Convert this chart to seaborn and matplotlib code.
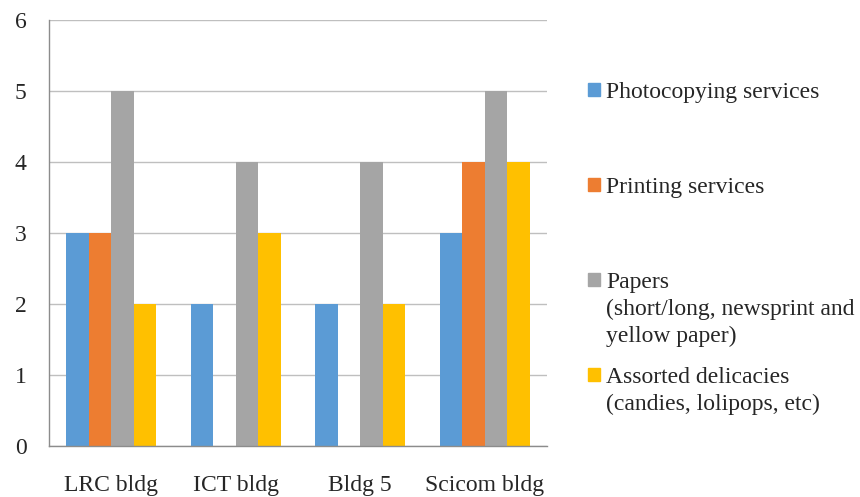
import matplotlib
matplotlib.use("Agg")

import matplotlib.pyplot as plt
import pandas as pd
import seaborn as sns

# chart data
buildings = ["LRC bldg", "ICT bldg", "Bldg 5", "Scicom bldg"]
series_names = [
    "Photocopying services",
    "Printing services",
    "Papers\n(short/long, newsprint and\nyellow paper)",
    "Assorted delicacies\n(candies, lolipops, etc)",
]
photocopying = [3, 2, 2, 3]
printing = [3, 0, 0, 4]
papers = [5, 4, 4, 5]
delicacies = [2, 3, 2, 4]
y_ticks = [0, 1, 2, 3, 4, 5, 6]

colors = ["#5B9BD5", "#ED7D31", "#A5A5A5", "#FFC000"]

# long-form table for seaborn
rows = []
for name, vals in zip(series_names, [photocopying, printing, papers, delicacies]):
    for b, v in zip(buildings, vals):
        rows.append({"building": b, "service": name, "count": v})
df = pd.DataFrame(rows)

sns.set_style("white")
plt.rcParams["font.family"] = ["Liberation Serif", "DejaVu Serif"]

W, H = 860, 497
fig = plt.figure(figsize=(W / 100, H / 100), dpi=100)
ax = fig.add_axes([49 / W, 1 - 446 / H, (547 - 49) / W, (446 - 20) / H])

sns.barplot(data=df, x="building", y="count", hue="service", order=buildings,
            hue_order=series_names, palette=colors, width=0.72, gap=0,
            saturation=1, linewidth=0, edgecolor="none", ax=ax, legend=False)

ax.set_ylim(0, 6)
ax.set_xlim(-0.5, len(buildings) - 0.5)
ax.set_yticks(y_ticks)
ax.yaxis.grid(True, color="#BFBFBF", linewidth=1)
ax.set_axisbelow(True)
ax.set_xlabel("")
ax.set_ylabel("")

for side in ["top", "right"]:
    ax.spines[side].set_visible(False)
for side in ["left", "bottom"]:
    ax.spines[side].set_color("#8C8C8C")
    ax.spines[side].set_linewidth(1)

ax.tick_params(axis="y", length=7, color="#BFBFBF", width=1, labelsize=17, pad=9)
ax.tick_params(axis="x", which="major", length=0, labelsize=17, pad=21)
ax.set_xticks([i - 0.5 for i in range(len(buildings) + 1)], minor=True)
ax.tick_params(axis="x", which="minor", length=6, color="#8C8C8C", width=1)

# legend on the right, square beside the first line of each label
legend_cap_top = [83, 178, 273, 368]
for name, col, top in zip(series_names, colors, legend_cap_top):
    fig.patches.append(plt.Rectangle((588 / W, 1 - (top + 13) / H), 12 / W, 13 / H,
                                     transform=fig.transFigure, color=col))
    fig.text(606 / W, 1 - (top - 1) / H, name, fontsize=17, va="top", ha="left",
             linespacing=1.35, transform=fig.transFigure)

plt.savefig("out.png", dpi=100)
plt.close()
